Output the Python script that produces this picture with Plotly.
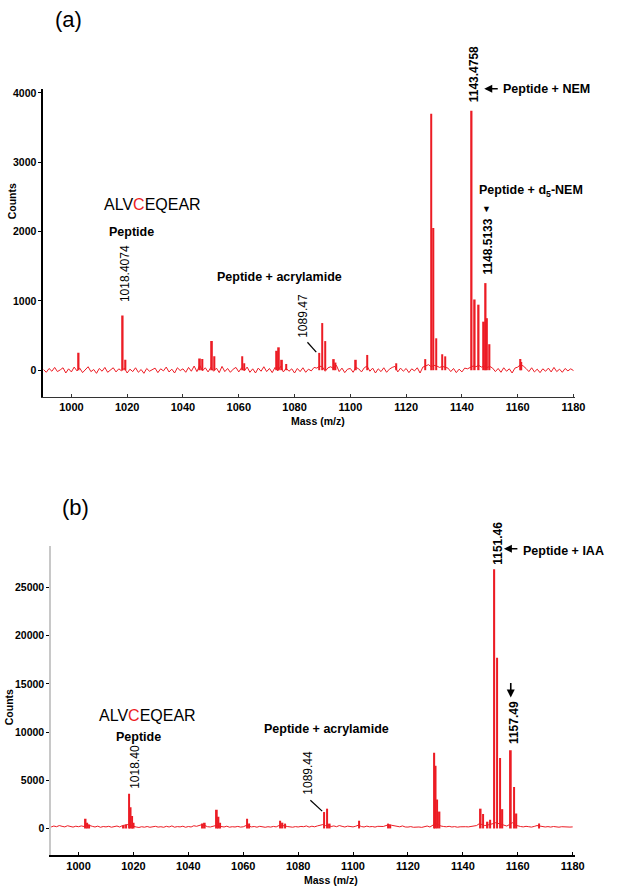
import plotly.graph_objects as go

# ---- data ----
# baseline noise, one value per m/z unit from 990 to 1180
base_mz = list(range(990, 1181))

noise_a = [
    10, -30, 25, -15, 40, -20, 5, 35, -40, 20,
    -25, 45, -10, 30, -35, 15, 50, -20, 10, -45,
    25, -15, 40, -30, 5, 35, -25, 20, -10, 30,
    -40, 15, -20, 35, -30, 10, -45, 25, -15, 5,
    30, -35, 20, -10, 45, -25, 15, -40, 35, -5,
    20, -30, 40, -15, 60, -20, 70, -10, 35, -25,
    40, -15, 30, -35, 55, -20, 25, -30, 15, 40,
    -25, 35, -10, 45, -30, 20, -40, 30, -15, 50,
    -20, 25, -35, 40, -10, 55, -25, 30, -15, 20,
    -40, 25, -20, 35, -30, 15, -10, 40, 30, 60,
    45, -15, 35, 50, 20, 70, -20, 30, -35, 15,
    25, -30, 40, 20, -25, 35, 60, -15, 30, -40,
    20, -20, 35, -30, 15, 40, 55, -25, 30, -15,
    25, -35, 20, -10, 35, -40, 45, 60, 80, 50,
    70, 60, 40, 55, 45, 30, -20, 25, -35, 15,
    -25, 30, 20, 40, 60, 50, 70, 45, 60, 40,
    55, 30, -20, 25, -30, 35, -15, 20, -40, 30,
    45, 80, 60, 25, -20, 35, -25, 15, -35, 20,
    -15, 30, -25, 40, -20, 15, -30, 25, -10, 20,
    -5,
]

noise_b = [
    150, 250, 180, 300, 220, 160, 280, 200, 140, 230,
    180, 260, 200, 400, 350, 220, 150, 240, 120, 200,
    160, 220, 130, 180, 250, 150, 300, 350, 400, 300,
    200, 150, 100, 180, 130, 200, 120, 170, 220, 140,
    180, 120, 220, 150, 260, 130, 190, 160, 230, 120,
    200, 150, 280, 220, 350, 400, 300, 180, 150, 220,
    300, 250, 200, 150, 230, 130, 180, 150, 210, 140,
    170, 300, 250, 160, 200, 130, 220, 150, 120, 180,
    140, 210, 160, 300, 320, 280, 200, 160, 130, 190,
    150, 210, 180, 260, 140, 230, 170, 260, 350, 400,
    300, 350, 200, 260, 180, 300, 220, 150, 240, 190,
    160, 230, 350, 200, 150, 240, 170, 200, 140, 220,
    180, 200, 300, 380, 330, 250, 200, 170, 260, 150,
    140, 190, 120, 170, 150, 110, 180, 250, 150, 300,
    500, 400, 250, 200, 170, 220, 150, 190, 130, 170,
    140, 180, 160, 210, 200, 300, 500, 400, 300, 350,
    400, 500, 600, 500, 400, 300, 250, 400, 600, 350,
    250, 200, 160, 220, 180, 140, 210, 300, 250, 170,
    150, 190, 140, 200, 160, 130, 180, 150, 170, 140,
    160,
]

# peaks, panel (a)
peak_mz_a = [1002.6, 1018.4, 1019.4, 1046.1, 1047.0, 1050.4, 1051.3,
             1061.3, 1062.0, 1073.7, 1074.4, 1075.5, 1077.0,
             1088.9, 1089.9, 1091.0, 1094.1, 1094.7, 1102.0, 1106.1,
             1116.4, 1126.8, 1129.0, 1129.8, 1130.8, 1132.9, 1134.0,
             1143.48, 1144.6, 1146.0, 1147.9, 1148.51, 1149.0, 1149.9,
             1161.0, 1161.3]
peak_counts_a = [250, 790, 150, 170, 160, 420, 200,
                 200, 100, 280, 330, 150, 90,
                 250, 680, 420, 160, 110, 150, 220,
                 100, 160, 3700, 2050, 460, 230, 200,
                 3740, 1020, 945, 700, 1256, 750, 375,
                 160, 120]

# peaks, panel (b)
peak_mz_b = [1002.6, 1003.2, 1003.8, 1016.5, 1017.3, 1018.4, 1019.0, 1019.5, 1020.1,
             1045.0, 1046.0, 1050.4, 1051.0, 1051.6, 1061.4, 1062.2,
             1073.5, 1074.3, 1075.2, 1089.4, 1090.5, 1091.5, 1102.2,
             1112.8, 1113.6, 1129.6, 1130.1, 1130.6, 1131.5,
             1146.5, 1147.3, 1149.0, 1150.0, 1151.46, 1152.5, 1153.5, 1154.4,
             1157.49, 1158.6, 1159.5, 1167.8]
peak_counts_b = [1000, 600, 400, 300, 400, 3600, 2200, 1300, 600,
                 500, 600, 1950, 1200, 600, 1000, 500,
                 800, 600, 500, 1700, 2050, 500, 800,
                 500, 400, 7850, 6500, 3000, 1750,
                 2050, 1500, 700, 900, 26900, 17700, 7300, 2000,
                 8100, 4300, 1550, 500]

x_ticks = [1000, 1020, 1040, 1060, 1080, 1100, 1120, 1140, 1160, 1180]
y_ticks_a = [0, 1000, 2000, 3000, 4000]
y_ticks_b = [0, 5000, 10000, 15000, 20000, 25000]

RED = "#ec1c24"
FONT = "Arial, Liberation Sans, sans-serif"
W, H = 619, 892


def px(x):
    return x / W


def py(y):
    return 1 - y / H


fig = go.Figure()

# panel (a)
fig.add_trace(go.Scatter(x=base_mz, y=noise_a, mode="lines",
                         line=dict(color=RED, width=1), xaxis="x", yaxis="y"))
fig.add_trace(go.Bar(x=peak_mz_a, y=peak_counts_a, width=0.6,
                     marker=dict(color=RED, line=dict(width=0)), xaxis="x", yaxis="y"))
# panel (b)
fig.add_trace(go.Scatter(x=base_mz, y=noise_b, mode="lines",
                         line=dict(color=RED, width=1), xaxis="x2", yaxis="y2"))
fig.add_trace(go.Bar(x=peak_mz_b, y=peak_counts_b, width=0.6,
                     marker=dict(color=RED, line=dict(width=0)), xaxis="x2", yaxis="y2"))

tick_font = dict(family=FONT, size=11, color="black", weight="bold")

fig.update_layout(
    width=W, height=H,
    margin=dict(l=0, r=0, t=0, b=0),
    paper_bgcolor="white", plot_bgcolor="white",
    showlegend=False, barmode="overlay",
    font=dict(family=FONT, color="black"),
    xaxis=dict(domain=[px(44), px(585)], range=[989.9, 1180.4], tickvals=x_ticks,
               showline=True, linecolor="#333333", linewidth=1,
               ticks="inside", ticklen=3, tickcolor="#333333",
               showgrid=False, zeroline=False, tickfont=tick_font, anchor="y"),
    yaxis=dict(domain=[py(396), py(87)], range=[-388, 4058], tickvals=y_ticks_a,
               tickformat="d",
               showline=True, linecolor="black", linewidth=1.5,
               ticks="outside", ticklen=3, tickcolor="black",
               showgrid=False, zeroline=False, tickfont=dict(tick_font, size=10.5),
               anchor="x"),
    xaxis2=dict(domain=[px(52), px(585)], range=[990.0, 1180.7], tickvals=x_ticks,
                showline=True, linecolor="black", linewidth=2,
                ticks="inside", ticklen=3, tickcolor="black",
                showgrid=False, zeroline=False, tickfont=tick_font, anchor="y2"),
    yaxis2=dict(domain=[py(855), py(545)], range=[-2764, 29322], tickvals=y_ticks_b,
                tickformat="d",
                showline=True, linecolor="#c8c8c8", linewidth=1.5,
                ticks="outside", ticklen=3, tickcolor="black",
                showgrid=False, zeroline=False, tickfont=dict(tick_font, size=10.5),
                anchor="x2"),
)


def note(text, x, y, size=12.5, angle=0, xanchor="center", color="black"):
    fig.add_annotation(text=text, x=px(x), y=py(y), xref="paper", yref="paper",
                       showarrow=False, textangle=angle, xanchor=xanchor, yanchor="middle",
                       font=dict(family=FONT, size=size, color=color))


def arrow(x_tip, y_tip, ax, ay):
    fig.add_annotation(text="", x=px(x_tip), y=py(y_tip), xref="paper", yref="paper",
                       showarrow=True, ax=ax, ay=ay, axref="pixel", ayref="pixel",
                       arrowhead=2, arrowsize=1, arrowwidth=1.6, arrowcolor="black")


seq = "ALV<span style='color:#ec1c24'>C</span>EQEAR"

# panel (a) annotations
note("(a)", 70, 18, size=22)
note(seq, 155, 203, size=16)
note("<b>Peptide</b>", 134, 231)
note("1018.4074", 128, 272, size=12, angle=-90)
note("<b>Peptide + acrylamide</b>", 285, 276)
note("1089.47", 309, 315, size=12, angle=-90)
note("<b>1143.4758</b>", 482, 72, size=12, angle=-90)
arrow(493, 87, 15, 0)
note("<b>Peptide + NEM</b>", 510, 87, xanchor="left")
note("<b>Peptide + d<sub>5</sub>-NEM</b>", 486, 189, xanchor="left")
note("▼", 495, 207, size=9)
note("<b>1148.5133</b>", 497, 245, size=12, angle=-90)
note("<b>Counts</b>", 12, 200, size=10.5, angle=-90)
note("<b>Mass (m/z)</b>", 324, 420, size=10.5)

# panel (b) annotations
note("(b)", 77, 507, size=22)
note(seq, 150, 715, size=16)
note("<b>Peptide</b>", 141, 737)
note("1018.40", 138, 767, size=12, angle=-90)
note("<b>Peptide + acrylamide</b>", 332, 729)
note("1089.44", 314, 772, size=12, angle=-90)
note("<b>1151.46</b>", 507, 542, size=12, angle=-90)
arrow(513, 548, 15, 0)
note("<b>Peptide + IAA</b>", 530, 550, xanchor="left")
arrow(520, 697, 0, -16)
note("<b>1157.49</b>", 524, 722, size=12, angle=-90)
note("<b>Counts</b>", 10, 707, size=10.5, angle=-90)
note("<b>Mass (m/z)</b>", 337, 880, size=10.5)

# leader lines to the acrylamide peaks
for x0, y0, x1, y1 in [(313, 341, 322, 351), (316, 800, 328, 811)]:
    fig.add_shape(type="line", xref="paper", yref="paper",
                  x0=px(x0), y0=py(y0), x1=px(x1), y1=py(y1),
                  line=dict(color="black", width=1.2))

# drop the default page margin so the figure sits at the window's corner
fig.write_html("out.html", config={"displayModeBar": False},
               post_script="document.body.style.margin='0';document.body.style.overflow='hidden';")
